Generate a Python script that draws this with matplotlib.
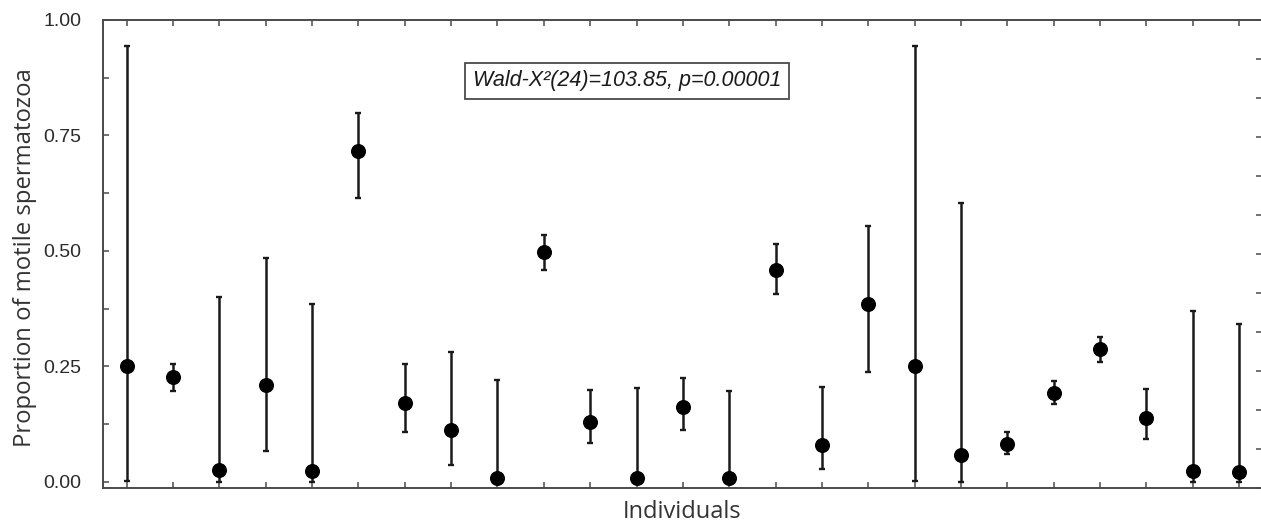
import numpy as np
import matplotlib
matplotlib.use("Agg")
import matplotlib.pyplot as plt

# proportion of motile spermatozoa per individual, with lower / upper CI limits
individuals = np.arange(1, 26)
prop = [0.25, 0.226, 0.025, 0.209, 0.024, 0.716, 0.171, 0.111, 0.009, 0.497,
        0.130, 0.007, 0.162, 0.007, 0.459, 0.079, 0.384, 0.25, 0.058, 0.081,
        0.193, 0.287, 0.139, 0.023, 0.020]
ci_low = [0.002, 0.197, 0.0, 0.066, 0.0, 0.614, 0.108, 0.036, 0.0, 0.459,
          0.083, 0.0, 0.113, 0.0, 0.406, 0.027, 0.237, 0.002, 0.0, 0.060,
          0.168, 0.260, 0.092, 0.0, 0.0]
ci_high = [0.944, 0.256, 0.401, 0.485, 0.384, 0.799, 0.256, 0.280, 0.220, 0.534,
           0.199, 0.202, 0.225, 0.197, 0.514, 0.206, 0.554, 0.944, 0.604, 0.108,
           0.218, 0.314, 0.200, 0.370, 0.342]
y_ticks = [0.0, 0.25, 0.5, 0.75, 1.0]
stat_text = "Wald-X\u00b2(24)=103.85, p=0.00001"

plt.rcParams['font.family'] = ['Liberation Sans', 'DejaVu Sans']

W, H = 1261, 524
fig = plt.figure(figsize=(W / 100, H / 100), dpi=100)
ax = fig.add_axes([103.3 / W, 1 - 487.7 / H, (1262.4 - 103.3) / W, (487.7 - 20) / H])

prop = np.array(prop)
yerr = [prop - np.array(ci_low), np.array(ci_high) - prop]
ax.errorbar(individuals, prop, yerr=yerr, fmt='o', color='black', ecolor='#1a1a1a',
            markersize=9.8, elinewidth=1.8, capsize=2.3, capthick=1.7, zorder=3)

ymin = -0.013
ax.set_xlim(0.495, 25.505)
ax.set_ylim(ymin, 1.0)

spine_col = '#4a4a4a'
for side in ['left', 'bottom', 'top']:
    ax.spines[side].set_color(spine_col)
    ax.spines[side].set_linewidth(1.4)
ax.spines['right'].set_visible(False)

ax.set_yticks(y_ticks)
ax.set_yticklabels(["%.2f" % v for v in y_ticks])
ax.set_yticks(np.arange(0.125, 1.0, 0.25), minor=True)
ax.set_xticks(individuals)
ax.set_xticklabels([])
ax.tick_params(axis='both', which='both', direction='in', length=4.5, width=1.1,
               color=spine_col, top=True, right=False)
ax.tick_params(axis='y', which='major', labelsize=14, pad=16, labelcolor='#2a2a2a')

# right axis: plain 12 divisions, no labels
ax2 = ax.twinx()
ax2.set_ylim(ymin, 1.0)
ax2.set_yticks(np.linspace(ymin, 1.0, 13))
ax2.set_yticklabels([])
ax2.tick_params(axis='y', direction='in', length=4.5, width=1.1, color=spine_col)
for side in ['left', 'bottom', 'top', 'right']:
    ax2.spines[side].set_visible(False)

ax.text(0.4518, 0.8696, stat_text, transform=ax.transAxes, ha='center', va='center',
        fontsize=15.5, style='italic', color='#1a1a1a',
        bbox=dict(boxstyle='square,pad=0.35', facecolor='white', edgecolor='#4a4a4a', linewidth=1.3))

fig.text(25 / W, 1 - 257.5 / H, "Proportion of motile spermatozoa", rotation=90,
         ha='center', va='center', fontsize=17.2, family='Open Sans', color='#333333')
fig.text(682 / W, 1 - 512 / H, "Individuals", ha='center', va='center',
         fontsize=17, family='Open Sans', color='#333333')

fig.savefig("out.png", dpi=100)
